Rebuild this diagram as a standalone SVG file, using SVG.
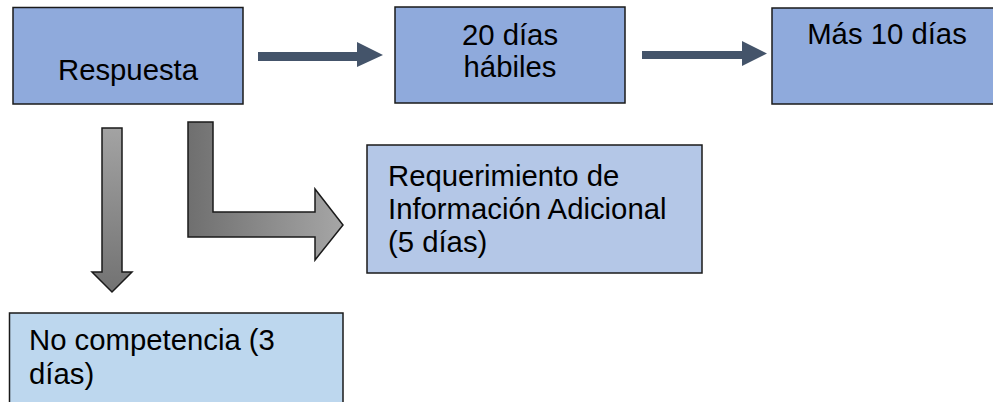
<svg xmlns="http://www.w3.org/2000/svg" width="993" height="402" viewBox="0 0 993 402">
  <style>
    .box { stroke: #1a1a1a; stroke-width: 1.5; }
    .top { fill: #8faadc; }
    .req { fill: #b4c7e7; }
    .noc { fill: #bdd7ee; }
    text { font-family: "Liberation Sans", Arial, sans-serif; font-size: 29.3px; fill: #000; }
    .c { text-anchor: middle; }
    .dark { fill: #44546a; }
    .grey { stroke: #1a1a1a; stroke-width: 1.5; stroke-linejoin: miter; }
  </style>
  <defs>
    <linearGradient id="gDown" x1="0" y1="0" x2="0" y2="1">
      <stop offset="0" stop-color="#a3a3a3"/>
      <stop offset="1" stop-color="#727272"/>
    </linearGradient>
    <linearGradient id="gRight" x1="0" y1="0" x2="1" y2="0">
      <stop offset="0" stop-color="#6f6f6f"/>
      <stop offset="1" stop-color="#a6a6a6"/>
    </linearGradient>
  </defs>
  <rect width="993" height="402" fill="#ffffff"/>

  <g id="connectors">
    <polygon class="dark" points="258,52 357,52 357,42 383,55 357,67 357,61 258,61"/>
    <polygon class="dark" points="642,51 742,51 742,41 767,53.5 742,66 742,59 642,59"/>
    <polygon class="grey" fill="url(#gDown)" points="102,128 122,128 122,272 132,272 112,292 92,272 102,272"/>
    <polygon class="grey" fill="url(#gRight)" points="188,122 213,122 213,212 315,212 315,189 343,225 315,260 315,237 188,237"/>
  </g>

  <g id="respuesta">
    <rect class="box top" x="13" y="7.5" width="230" height="96.5"/>
    <text class="c" x="128" y="80">Respuesta</text>
  </g>

  <g id="dias20">
    <rect class="box top" x="395" y="7" width="230" height="96"/>
    <text class="c" x="510" y="45">20 días</text>
    <text class="c" x="510" y="77">hábiles</text>
  </g>

  <g id="mas10">
    <rect class="box top" x="772" y="8" width="230" height="96"/>
    <text class="c" x="887" y="44">Más 10 días</text>
  </g>

  <g id="requerimiento">
    <rect class="box req" x="367" y="145" width="335" height="128"/>
    <text x="388" y="186">Requerimiento de</text>
    <text x="388" y="219">Información Adicional</text>
    <text x="388" y="252">(5 días)</text>
  </g>

  <g id="nocompetencia">
    <rect class="box noc" x="9.5" y="313" width="333.5" height="100"/>
    <text x="29" y="350">No competencia (3</text>
    <text x="29" y="384">días)</text>
  </g>
</svg>
